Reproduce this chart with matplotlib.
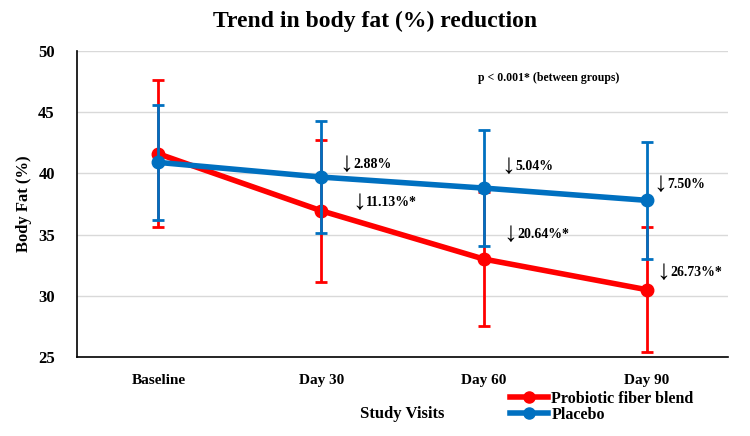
import matplotlib.pyplot as plt
from matplotlib.lines import Line2D
import numpy as np

visits = ["Baseline", "Day 30", "Day 60", "Day 90"]
probiotic = [41.6, 36.95, 33.0, 30.5]
probiotic_err = [6.0, 5.8, 5.45, 5.1]
placebo = [40.9, 39.7, 38.8, 37.8]
placebo_err = [4.7, 4.6, 4.75, 4.8]
probiotic_labels = ["", "11.13%*", "20.64%*", "26.73%*"]
placebo_labels = ["", "2.88%", "5.04%", "7.50%"]

plt.rcParams['font.family'] = ['Liberation Serif', 'DejaVu Serif']
plt.rcParams['font.weight'] = 'bold'

fig = plt.figure(figsize=(7.5, 4.36), dpi=100)
ax = fig.add_axes([0.1027, 0.1812, 0.868, 0.7018])

x = np.arange(len(visits))
red = "#FF0000"
blue = "#0070C0"

ax.errorbar(x, probiotic, yerr=probiotic_err, color=red, lw=4, marker="o", ms=9,
            elinewidth=2, capsize=4, capthick=2, zorder=3)
ax.errorbar(x, placebo, yerr=placebo_err, color=blue, lw=4, marker="o", ms=9,
            elinewidth=2, capsize=4, capthick=2, zorder=4)


def reduction_label(xp, yp, txt):
    # arrow drawn a bit larger than the number, like the original
    ax.text(xp, yp, "\u2193", fontsize=20, fontweight='normal', va='center', ha='left')
    ax.annotate(txt, (xp, yp), xytext=(10, 0), textcoords='offset points',
                fontsize=10, fontweight='bold', va='center', ha='left')


# percent reduction labels
prob_off = [(0, 0), (0.19, 0.7), (0.12, 2.0), (0.06, 1.4)]
plac_off = [(0, 0), (0.11, 1.0), (0.11, 1.8), (0.04, 1.3)]
for i in range(1, 4):
    reduction_label(x[i] + prob_off[i][0], probiotic[i] + prob_off[i][1], probiotic_labels[i])
    reduction_label(x[i] + plac_off[i][0], placebo[i] + plac_off[i][1], placebo_labels[i])

ax.text(2.4, 47.8, "p < 0.001* (between groups)", fontsize=8.5, fontweight='bold',
        ha='center', va='center')

ax.set_xlim(-0.5, 3.5)
ax.set_ylim(25, 50)
ax.set_yticks([25, 30, 35, 40, 45, 50])
ax.set_xticks(x)
ax.set_xticklabels(visits)
ax.tick_params(length=0, labelsize=11, pad=12)
ax.tick_params(axis='y', labelsize=12, pad=16)
ax.grid(axis='y', color='#D9D9D9', lw=1)
ax.set_axisbelow(True)
for s in ['top', 'right']:
    ax.spines[s].set_visible(False)
for s in ['left', 'bottom']:
    ax.spines[s].set_color('black')
    ax.spines[s].set_linewidth(1.2)

ax.set_xlabel("Study Visits", fontsize=12, fontweight='bold', labelpad=14)
ax.set_ylabel("Body Fat (%)", fontsize=12, fontweight='bold', labelpad=4)
fig.suptitle("Trend in body fat (%) reduction", fontsize=17, fontweight='bold', y=0.975)

handles = [Line2D([], [], color=red, lw=4, marker="o", ms=8),
           Line2D([], [], color=blue, lw=4, marker="o", ms=8)]
ax.legend(handles, ["Probiotic fiber blend", "Placebo"], loc='upper left',
          bbox_to_anchor=(0.655, -0.09), frameon=False, fontsize=11.5,
          handlelength=2.4, handletextpad=0.2, labelspacing=0.0, borderaxespad=0)

fig.savefig("out.png", dpi=100)
